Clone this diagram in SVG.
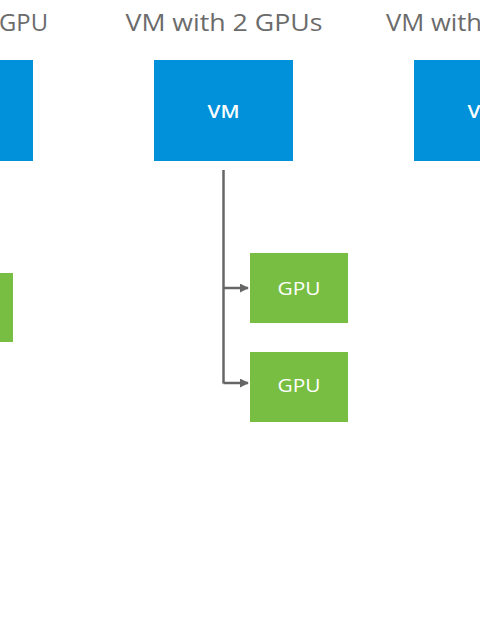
<svg xmlns="http://www.w3.org/2000/svg" width="480" height="629" viewBox="0 0 480 629">
<style>
.title{font-family:"Open Sans","Liberation Sans",sans-serif;font-size:23px;fill:#6b6b6b}
.vm{fill:#0091da}
.gpu{fill:#78be43}
.lbl{font-family:"Open Sans","Liberation Sans",sans-serif;fill:#ffffff;text-anchor:middle}
.conn{fill:none;stroke:#666666;stroke-width:2.5}
</style>
<defs>
<marker id="ah" viewBox="0 0 10 10" refX="9" refY="5" markerWidth="3.6" markerHeight="3.6" orient="auto" markerUnits="strokeWidth">
<path d="M0,0 L10,5 L0,10 z" fill="#666666"/>
</marker>
</defs>
<rect width="480" height="629" fill="#ffffff"/>
<g id="titles">
<text class="title" x="48" y="31" text-anchor="end" textLength="49" lengthAdjust="spacingAndGlyphs">GPU</text>
<text class="title" x="224" y="31" text-anchor="middle" textLength="197" lengthAdjust="spacingAndGlyphs">VM with 2 GPUs</text>
<text class="title" x="386" y="31" textLength="96" lengthAdjust="spacingAndGlyphs">VM with</text>
</g>
<g id="vm-left"><rect class="vm" x="-106" y="60" width="139" height="101"/></g>
<g id="vm-mid"><rect class="vm" x="154" y="60" width="139" height="101"/><text class="lbl" x="223.5" y="118" font-size="18" font-weight="600" textLength="32" lengthAdjust="spacingAndGlyphs">VM</text></g>
<g id="vm-right"><rect class="vm" x="414" y="60" width="139" height="101"/><text class="lbl" x="483.5" y="118" font-size="18" font-weight="600" textLength="32" lengthAdjust="spacingAndGlyphs">VM</text></g>
<g id="gpu-left"><rect class="gpu" x="-85" y="273" width="98" height="69"/></g>
<g id="gpu-mid-1"><rect class="gpu" x="250" y="253" width="98" height="70"/><text class="lbl" x="299" y="295" font-size="18" textLength="43" lengthAdjust="spacingAndGlyphs">GPU</text></g>
<g id="gpu-mid-2"><rect class="gpu" x="250" y="352" width="98" height="70"/><text class="lbl" x="299" y="392" font-size="18" textLength="43" lengthAdjust="spacingAndGlyphs">GPU</text></g>
<g id="connectors">
<path class="conn" d="M223.5,170 V383.5"/>
<path class="conn" d="M223.5,288 H248" marker-end="url(#ah)"/>
<path class="conn" d="M223.5,383 H248" marker-end="url(#ah)"/>
</g>
</svg>
